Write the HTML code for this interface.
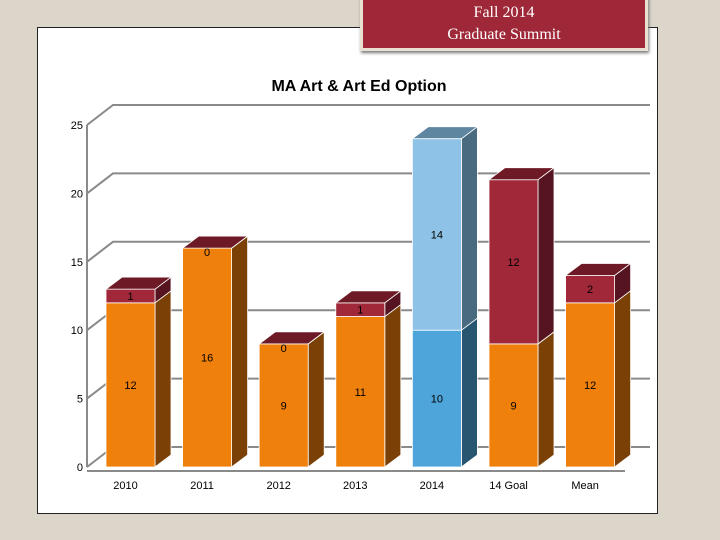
<!DOCTYPE html>
<html><head><meta charset="utf-8"><style>
body{margin:0;width:720px;height:540px;overflow:hidden;background:#dcd5ca;font-family:"Liberation Sans",sans-serif;}
#frame{position:absolute;left:37px;top:27px;width:619px;height:485px;background:#fff;border:1px solid #222;}
#hdr{position:absolute;left:360px;top:-4px;width:282px;height:46px;background:#9e2838;border:3px solid #e8e0d0;box-shadow:1px 2px 3px #777;color:#fff;font-family:"Liberation Serif",serif;font-size:16px;text-align:center;line-height:22px;padding-top:3px}
svg{position:absolute;left:0;top:0}
</style></head><body>
<div id="frame"></div>
<div id="hdr">Fall 2014<br>Graduate Summit</div>
<svg id="c" width="720" height="540">
<text x="359" y="91" text-anchor="middle" font-size="16" font-weight="bold">MA Art &amp; Art Ed Option</text>
</svg>
<script>
const categories=["2010","2011","2012","2013","2014","14 Goal","Mean"];
const bottomVals=[12,16,9,11,10,9,12];
const topVals=[1,0,0,1,14,12,2];
const yTicks=[0,5,10,15,20,25];
const NS="http://www.w3.org/2000/svg";
const svg=document.getElementById('c');
const y0=467,pxU=13.68;
function Y(v){return y0-v*pxU;}
function X(i){return 106+i*76.6;}
const BW=49,DX=16,DY=12,GX=26,GY=20;
function mk(t,a,p){const e=document.createElementNS(NS,t);for(const k in a)e.setAttribute(k,a[k]);(p||svg).appendChild(e);return e;}
// axes & gridlines
yTicks.forEach(v=>{
 const g=mk('polyline',{points:`${87},${Y(v)} ${87+GX},${Y(v)-GY} 650,${Y(v)-GY}`,fill:'none',stroke:'#8a8a8a','stroke-width':v==0?2:2});
 
 
 const t=mk('text',{x:83,y:Y(v)+4,'text-anchor':'end','font-size':11});t.textContent=v;
 
 
});
const ax=mk('line',{x1:87,y1:Y(0),x2:87,y2:Y(25),stroke:'#8a8a8a','stroke-width':2});


const fl=mk('line',{x1:87,y1:Y(0)+4,x2:625,y2:Y(0)+4,stroke:'#8a8a8a','stroke-width':2});


function seg(i,lo,hi,front,side,topc,drawTop,name){
 const x=X(i),ya=Y(hi),yb=Y(lo);
 const s=mk('polygon',{points:`${x+BW},${yb} ${x+BW+DX},${yb-DY} ${x+BW+DX},${ya-DY} ${x+BW},${ya}`,fill:side,stroke:'#fff','stroke-width':0.8});
 
 
 const f=mk('rect',{x:x,y:ya,width:BW,height:yb-ya,fill:front,stroke:'#fff','stroke-width':0.8});
 
 
 if(drawTop){const t=mk('polygon',{points:`${x},${ya} ${x+DX},${ya-DY} ${x+BW+DX},${ya-DY} ${x+BW},${ya}`,fill:topc,stroke:'#fff','stroke-width':0.8});
 
 }
}
categories.forEach((c,i)=>{
 const b=bottomVals[i],t=topVals[i],blue=(c==='2014');
 seg(i,0,b,blue?'#4ea5da':'#ee800b',blue?'#285670':'#7a4006',null,false,'bar-bottom-'+c);
 seg(i,b,b+t,blue?'#8ec3e7':'#a02838',blue?'#4a6a80':'#55141f',blue?'#5e86a0':'#6e1a26',true,'bar-top-'+c);
 const l1=mk('text',{x:X(i)+BW/2,y:Y(b/2)+4,'text-anchor':'middle','font-size':11});l1.textContent=b;
 
 
 const l2=mk('text',{x:X(i)+BW/2,y:(t===0?Y(b)+8:Y(b+t/2)+4),'text-anchor':'middle','font-size':11});l2.textContent=t;
 
 
 const xl=mk('text',{x:X(i)+BW/2-5,y:489,'text-anchor':'middle','font-size':11});xl.textContent=c;
 
 
});
</script>
</body></html>
